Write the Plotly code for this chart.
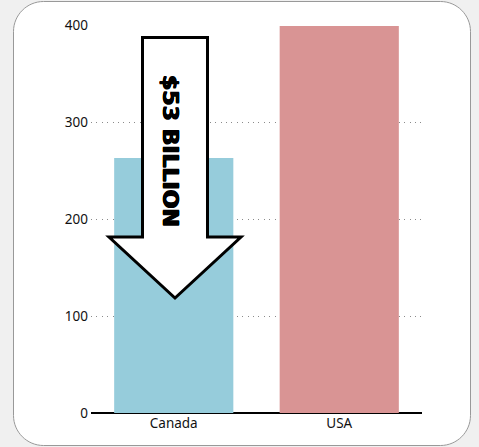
import plotly.graph_objects as go

categories = ["Canada", "USA"]
values = [263, 399]
bar_colors = ["#96CCDB", "#D99494"]
tick_vals = [0, 100, 200, 300, 400]
arrow_label = "$53 BILLION"

W, H = 479, 447
L, R, T, B = 91, 57, 25, 34
PW, PH = W - L - R, H - T - B


def px(x):
    return (x - L) / PW


def py(y):
    return (H - B - y) / PH


def path(points):
    return "M " + " L ".join(f"{px(x):.5f},{py(y):.5f}" for x, y in points) + " Z"


# rounded panel
x0, x1, y0, y1, r = 13.5, 470.5, 1.5, 445.5, 30
k = 0.45
panel = (
    f"M {px(x0 + r)},{py(y0)} L {px(x1 - r)},{py(y0)} "
    f"C {px(x1 - r * k)},{py(y0)} {px(x1)},{py(y0 + r * k)} {px(x1)},{py(y0 + r)} "
    f"L {px(x1)},{py(y1 - r)} "
    f"C {px(x1)},{py(y1 - r * k)} {px(x1 - r * k)},{py(y1)} {px(x1 - r)},{py(y1)} "
    f"L {px(x0 + r)},{py(y1)} "
    f"C {px(x0 + r * k)},{py(y1)} {px(x0)},{py(y1 - r * k)} {px(x0)},{py(y1 - r)} "
    f"L {px(x0)},{py(y0 + r)} "
    f"C {px(x0)},{py(y0 + r * k)} {px(x0 + r * k)},{py(y0)} {px(x0 + r)},{py(y0)} Z"
)

arrow = path([
    (142.5, 37.5), (207.5, 37.5), (207.5, 237), (241, 237),
    (175, 298), (109, 237), (142.5, 237),
])

fig = go.Figure(
    go.Bar(
        x=categories,
        y=values,
        marker=dict(color=bar_colors, line=dict(width=0)),
        hoverinfo="skip",
    )
)

fig.update_layout(
    width=W,
    height=H,
    margin=dict(l=L, r=R, t=T, b=B),
    paper_bgcolor="#f0f0f0",
    plot_bgcolor="rgba(0,0,0,0)",
    bargap=0.28,
    showlegend=False,
    font=dict(family="Noto Sans", size=13.5, color="#111"),
    xaxis=dict(showgrid=False, showline=False, ticks="", fixedrange=True),
    yaxis=dict(
        range=[0, 400],
        tickvals=tick_vals,
        showgrid=True,
        gridcolor="#8a8a8a",
        griddash="1px,4.4px",
        gridwidth=1,
        zeroline=True,
        zerolinecolor="#000000",
        zerolinewidth=2,
        showline=False,
        ticks="",
        ticklabelstandoff=2,
        fixedrange=True,
    ),
    shapes=[
        dict(type="path", path=panel, xref="paper", yref="paper",
             fillcolor="#ffffff", line=dict(color="#999999", width=1), layer="below"),
        dict(type="path", path=arrow, xref="paper", yref="paper",
             fillcolor="#ffffff", line=dict(color="#000000", width=3), layer="above"),
    ],
    annotations=[
        dict(text=f"<b>{arrow_label}</b>", x=px(171), y=py(151), xref="paper", yref="paper",
             xanchor="center", yanchor="middle",
             showarrow=False, textangle=90,
             font=dict(family="DejaVu Sans", size=22, color="#000000", weight=900,
                       shadow="0.7px 0 0 #000, -0.7px 0 0 #000, 0 0.5px 0 #000")),
    ],
)

fig.write_html(
    "out.html",
    config={"displayModeBar": False},
    post_script="document.body.style.margin='0';document.body.style.overflow='hidden';",
)
